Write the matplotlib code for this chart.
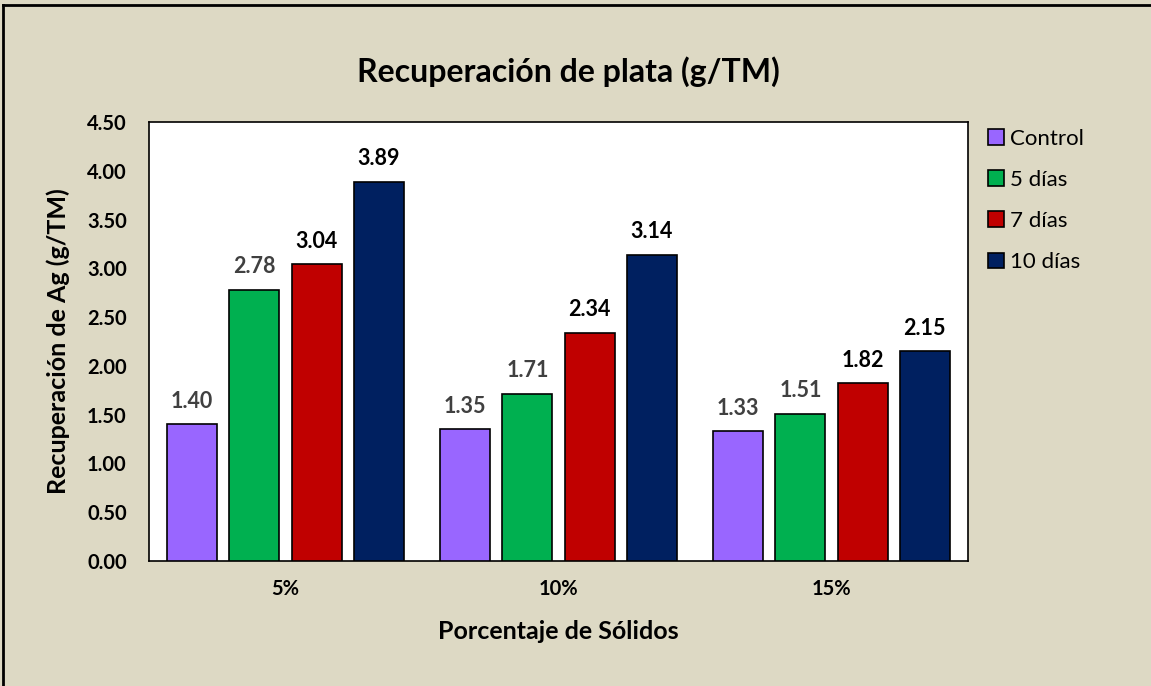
import matplotlib.pyplot as plt
import numpy as np

plt.rcParams['font.family'] = ['Lato', 'DejaVu Sans']

categorias = ['5%', '10%', '15%']
series = ['Control', '5 días', '7 días', '10 días']
control = [1.40, 1.35, 1.33]
dias_5 = [2.78, 1.71, 1.51]
dias_7 = [3.04, 2.34, 1.82]
dias_10 = [3.89, 3.14, 2.15]
colores = ['#9966FF', '#00B050', '#C00000', '#002060']
color_etiqueta = ['#404040', '#404040', 'black', 'black']

fondo = '#DDD9C4'
fig = plt.figure(figsize=(11.51, 6.86), dpi=100, facecolor=fondo)
ax = fig.add_axes([149 / 1151, 1 - 561 / 686, (968 - 149) / 1151, (561 - 122) / 686])
ax.set_facecolor('white')

x = np.arange(len(categorias))
paso = 0.228
ancho = 0.184
valores = [control, dias_5, dias_7, dias_10]
for i, (nombre, vals) in enumerate(zip(series, valores)):
    pos = x + (i - 1.5) * paso
    barras = ax.bar(pos, vals, width=ancho, color=colores[i], edgecolor='black',
                    linewidth=1.2, label=nombre, zorder=3)
    for b, v in zip(barras, vals):
        ax.text(b.get_x() + b.get_width() / 2, v + 0.13, f'{v:.2f}', ha='center',
                va='bottom', fontsize=15.5, fontweight='bold', color=color_etiqueta[i])

ax.set_xlim(-0.5, 2.5)
ax.set_ylim(0, 4.5)
ax.set_yticks(np.arange(0, 4.51, 0.5))
ax.set_yticklabels([f'{t:.2f}' for t in np.arange(0, 4.51, 0.5)])
ax.set_xticks(x)
ax.set_xticklabels(categorias)
ax.tick_params(axis='both', length=0, labelsize=14.5, pad=16)
for lbl in ax.get_xticklabels() + ax.get_yticklabels():
    lbl.set_fontweight('bold')
ax.tick_params(axis='x', pad=13)
for s in ax.spines.values():
    s.set_linewidth(1.2)

ax.set_xlabel('Porcentaje de Sólidos', fontsize=18, fontweight='bold', labelpad=15)
ax.set_ylabel('Recuperación de Ag (g/TM)', fontsize=18, fontweight='bold', labelpad=12)
fig.text(568 / 1151, 1 - 72 / 686, 'Recuperación de plata (g/TM)', ha='center',
         va='center', fontsize=23, fontweight='bold')

leg = ax.legend(loc='upper left', bbox_to_anchor=(1.0, 1.03), frameon=False,
                fontsize=16, handlelength=0.7, handleheight=0.7, handletextpad=0.3,
                labelspacing=0.95)

# líneas del borde superior e izquierdo
fig.add_artist(plt.Line2D([0.003, 1.0], [0.993, 0.993], transform=fig.transFigure,
                          color='black', linewidth=2))
fig.add_artist(plt.Line2D([0.003, 0.003], [0.0, 0.993], transform=fig.transFigure,
                          color='black', linewidth=2))

fig.savefig('out.png', dpi=100, facecolor=fondo)
